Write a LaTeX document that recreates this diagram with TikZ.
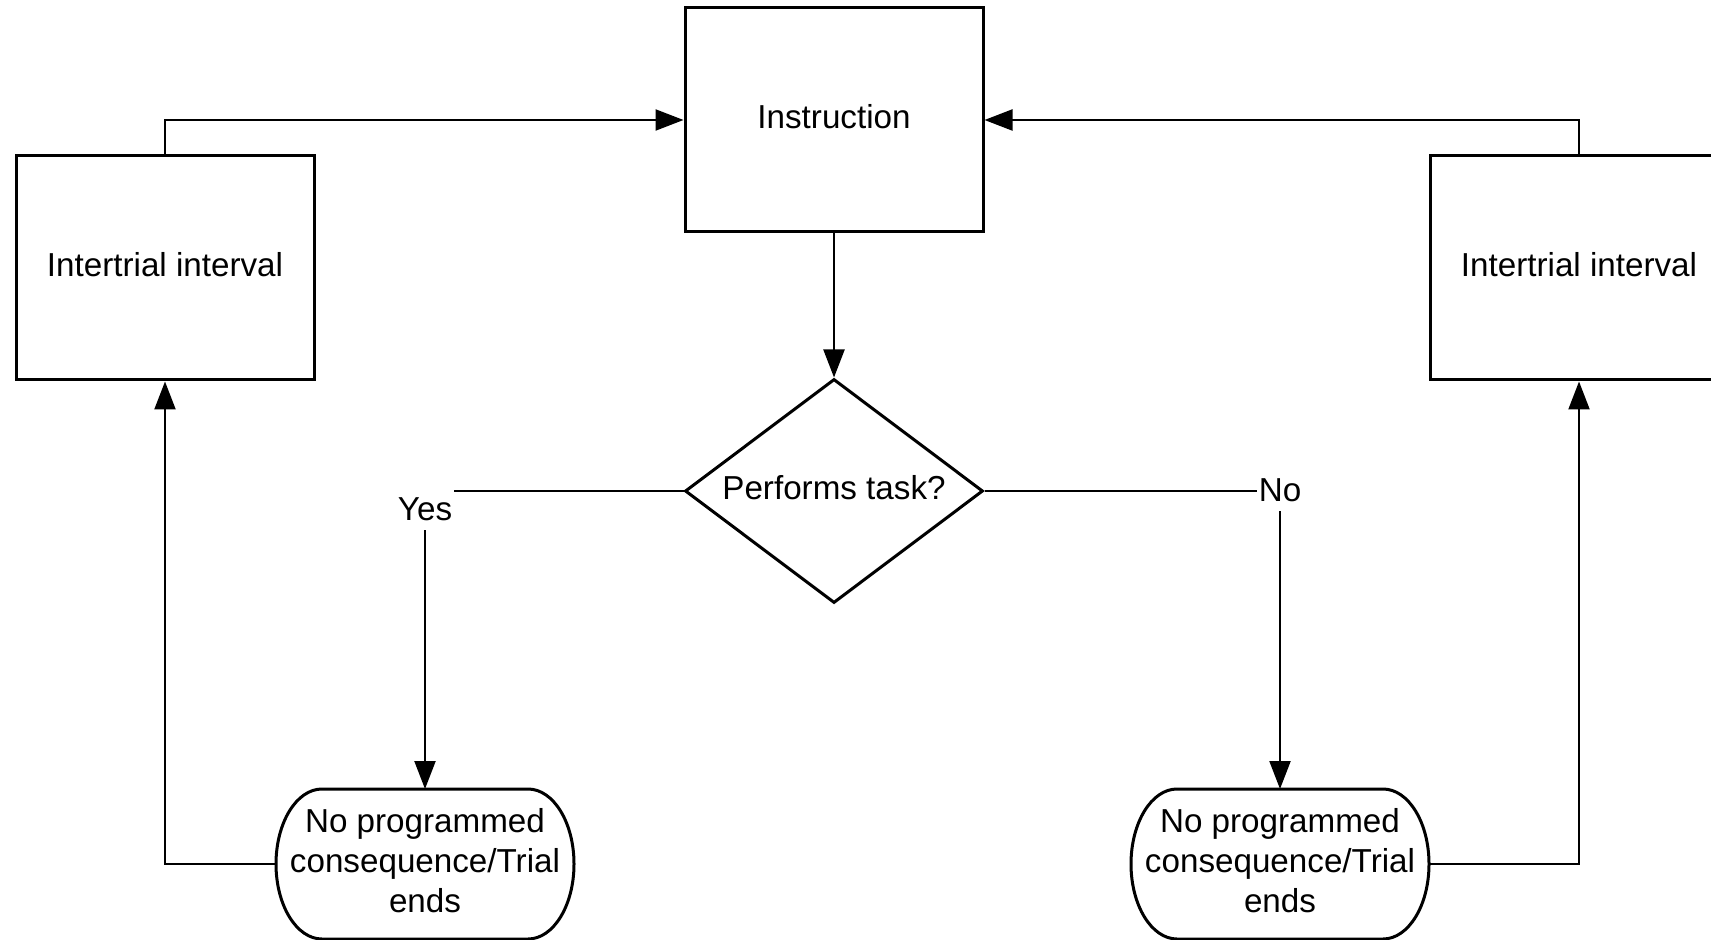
\documentclass[tikz,border=0pt]{standalone}
\usepackage{fontspec}
\setmainfont{Liberation Sans}
\usetikzlibrary{shapes.geometric,arrows.meta}

\begin{document}
\begin{tikzpicture}[x=0.5pt,y=-0.5pt,line width=1.1pt]
    \tikzstyle{every node}=[font=\fontsize{16.6pt}{20.2pt}\selectfont]
    \tikzstyle{block}=[draw,line width=1.5pt,minimum width=149pt,minimum height=112pt,inner sep=0pt,text depth=3.5pt]
    \tikzstyle{ends}=[minimum width=149pt,minimum height=75pt,inner sep=0pt,outer sep=0pt,align=center,text depth=3.5pt]
    \tikzstyle{lbl}=[fill=white,inner xsep=1pt,inner ysep=4.5pt]
    \tikzstyle{arr}=[-{Triangle[length=14pt,width=10.5pt]}]
    \useasboundingbox (0,0) rectangle (1711,940);

    \node[block] (instr) at (834, 120) {Instruction};
    \node[block] (itiL) at (165, 268) {Intertrial interval};
    \node[block] (itiR) at (1579, 268) {Intertrial interval};
    \node[draw,diamond,aspect=1.33,minimum width=149pt,minimum height=112pt,
          inner sep=0pt,line width=1.5pt,text depth=3.5pt] (perf) at (834, 491) {Performs task?};
    \node[ends] (endL) at (425, 864) {No programmed\\consequence/Trial\\ends};
    \node[ends] (endR) at (1280, 864) {No programmed\\consequence/Trial\\ends};

    % rounded outline of the two end boxes
    \foreach \t in {endL,endR}
        \draw[line width=1.5pt] ([xshift=23pt]\t.north west) -- ([xshift=-23pt]\t.north east)
            arc[start angle=90,end angle=-90,x radius=23pt,y radius=37.5pt]
            -- ([xshift=23pt]\t.south west)
            arc[start angle=270,end angle=90,x radius=23pt,y radius=37.5pt] -- cycle;

    \draw[arr] (instr) -- (perf);
    \draw[arr] (itiL.north) |- (instr.west);
    \draw[arr] (itiR.north) |- (instr.east);
    \draw[arr] (perf.west) -| (endL.north) node[lbl,pos=0.5,anchor=north,yshift=1.5pt] (yes) {Yes};
    \draw[arr] (perf.east) -| (endR.north) node[lbl,pos=0.5,yshift=0.5pt] (no) {No};
    \draw[arr] (endL.west) -| (itiL.south);
    \draw[arr] (endR.east) -| (itiR.south);
\end{tikzpicture}
\end{document}
